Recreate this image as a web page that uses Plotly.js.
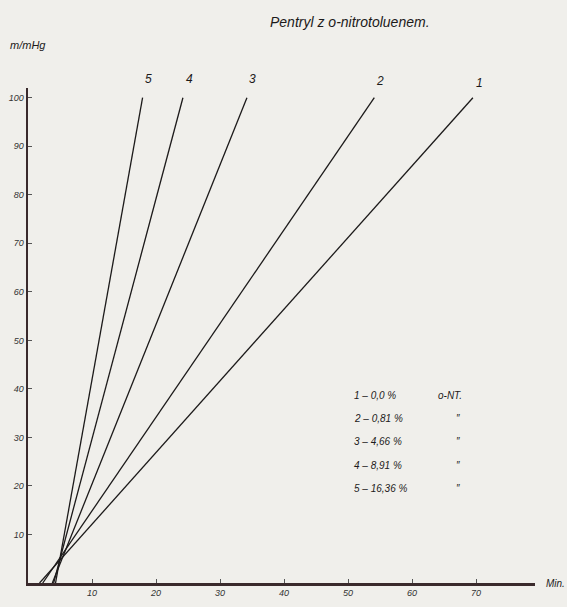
<!DOCTYPE html>
<html>
<head>
<meta charset="utf-8">
<script src="https://cdn.plot.ly/plotly-3.0.1.min.js"></script>
<style>
  html, body { margin: 0; padding: 0; background: #f0efeb; }
  #chart { width: 567px; height: 607px; }
</style>
</head>
<body>
<div id="chart"></div>
<script>
// Curve identifiers and the o-nitrotoluene contents
const curveNames = ['1', '2', '3', '4', '5'];
const contents = ['0,0 %', '0,81 %', '4,66 %', '8,91 %', '16,36 %'];
// Each straight line: start (Min., mmHg) and end (Min., mmHg)
const startMin = [1.8, 2.3, 3.8, 4.0, 4.3];
const startHg = [0, 0, 0, 0, 0];
const endMin = [69.5, 54.1, 34.2, 24.2, 17.9];
const endHg = [100, 100, 100, 100, 100];
// Curve number labels above line ends
const labelMin = [70.6, 55.0, 35.0, 25.2, 18.75];
const labelHg = [103.0, 103.4, 103.8, 103.8, 103.8];
// Axis ticks
const xTicks = [10, 20, 30, 40, 50, 60, 70];
const yTicks = [10, 20, 30, 40, 50, 60, 70, 80, 90, 100];
// Key (legend) text rows
const keyHg = [38.6, 33.8, 29.1, 24.3, 19.4];

const yMax = 102;
const ink = '#1c1a1a';
const fontFam = 'Liberation Sans, Arial, sans-serif';

const traces = curveNames.map((n, i) => ({
  type: 'scatter',
  mode: 'lines',
  x: [startMin[i], endMin[i]],
  y: [startHg[i], endHg[i]],
  line: { color: ink, width: 1.3 },
  hoverinfo: 'skip',
  showlegend: false
}));

const annotations = [];
curveNames.forEach((n, i) => {
  annotations.push({
    x: labelMin[i], y: labelHg[i] / yMax, xref: 'x', yref: 'paper',
    text: n, showarrow: false,
    font: { family: fontFam, size: 12, color: ink, style: 'italic' },
    xanchor: 'center', yanchor: 'middle'
  });
  annotations.push({
    x: 50.6, y: keyHg[i], xref: 'x', yref: 'y',
    text: n + ' – ' + contents[i], showarrow: false,
    font: { family: fontFam, size: 10, color: ink, style: 'italic' },
    xanchor: 'left', yanchor: 'middle'
  });
  annotations.push({
    x: i === 0 ? 63.8 : 67.2, y: keyHg[i], xref: 'x', yref: 'y',
    text: i === 0 ? 'o-NT.' : '″', showarrow: false,
    font: { family: fontFam, size: 10, color: ink, style: 'italic' },
    xanchor: i === 0 ? 'left' : 'center', yanchor: 'middle'
  });
});

// Title and axis unit labels
annotations.push({
  x: 0.635, y: 1.134, xref: 'paper', yref: 'paper',
  text: 'Pentryl z o-nitrotoluenem.', showarrow: false,
  font: { family: fontFam, size: 14, color: ink, style: 'italic' },
  xanchor: 'center', yanchor: 'middle'
});
annotations.push({
  x: -0.04, y: 1.087, xref: 'paper', yref: 'paper',
  text: 'm/mHg', showarrow: false,
  font: { family: fontFam, size: 11, color: ink, style: 'italic' },
  xanchor: 'left', yanchor: 'middle'
});
annotations.push({
  x: 1.018, y: -0.002, xref: 'paper', yref: 'paper',
  text: 'Min.', showarrow: false,
  font: { family: fontFam, size: 10, color: ink, style: 'italic' },
  xanchor: 'left', yanchor: 'middle'
});

const layout = {
  width: 567, height: 607,
  margin: { l: 28, r: 32, t: 88, b: 24, pad: 0 },
  paper_bgcolor: '#f0efeb',
  plot_bgcolor: '#f0efeb',
  showlegend: false,
  xaxis: {
    range: [0, 79.2],
    tickvals: xTicks,
    ticktext: xTicks.map(String),
    showgrid: false, zeroline: false,
    showline: true, linecolor: '#3a2a2c', linewidth: 2.5,
    ticks: 'inside', ticklen: 4, tickwidth: 1, tickcolor: '#555',
    tickfont: { family: fontFam, size: 9, color: '#333', style: 'italic' },
    fixedrange: true
  },
  yaxis: {
    range: [0, yMax],
    tickvals: yTicks,
    ticktext: yTicks.map(String),
    showgrid: false, zeroline: false,
    showline: true, linecolor: '#3a2a2c', linewidth: 2.5,
    ticks: 'inside', ticklen: 4, tickwidth: 1, tickcolor: '#555',
    tickfont: { family: fontFam, size: 9, color: '#333', style: 'italic' },
    fixedrange: true
  },
  annotations: annotations
};

Plotly.newPlot('chart', traces, layout, { displayModeBar: false, staticPlot: true });
</script>
</body>
</html>
